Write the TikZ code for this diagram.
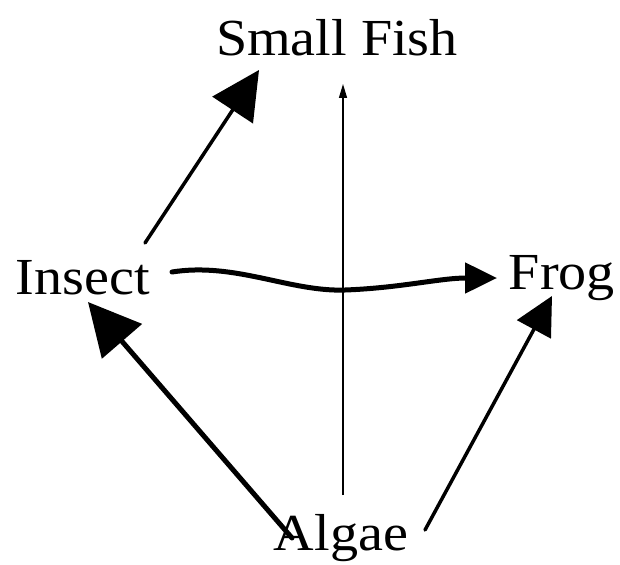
\documentclass[tikz,border=0pt]{standalone}
\usepackage{fontspec}
\setmainfont{Liberation Serif}[FakeStretch=1.08]
\usetikzlibrary{arrows.meta,calc}
\begin{document}
\begin{tikzpicture}[x=1pt,y=-1pt,
  lbl/.style={font=\fontsize{52}{60}\selectfont, inner sep=0pt, anchor=center},
  thick arr/.style={line width=4.5pt, line cap=round, -{Triangle[length=#1pt,width=#1pt]}},
  thin arr/.style={line width=1.4pt, -{Triangle[length=14pt,width=8pt]}}]
\useasboundingbox (0,0) rectangle (620,564);
\node[lbl] (fish) at (337,38) {Small Fish};
\node[lbl] (insect) at (83,278) {Insect};
\node[lbl] (frog) at (562,278) {Frog};
\node[lbl] (algae) at (341,538) {Algae};
% thin vertical arrow
\draw[thin arr] ($(algae)+(2,-43)$) -- ($(fish)+(6,46)$);
% insect -> small fish
\draw[thick arr=48, line width=3.5pt] ($(insect)+(62,-35)$) -- ($(fish)+(-78,32)$);
% insect -> frog (wavy)
\draw[line width=5pt, line cap=round, -{Triangle[length=32pt,width=30pt]}]
  ($(insect)+(89,-6)$) .. controls (235,262) and (290,292) .. (345,290)
  .. controls (400,288) and (440,278) .. ($(frog)+(-65,0)$);
% algae -> insect
\draw[thick arr=52, line width=5pt] ($(algae)+(-49,0)$) -- ($(insect)+(5,24)$);
% algae -> frog
\draw[thick arr=38, line width=3.5pt] ($(algae)+(84,-8)$) -- ($(frog)+(-10,18)$);
\end{tikzpicture}
\end{document}
